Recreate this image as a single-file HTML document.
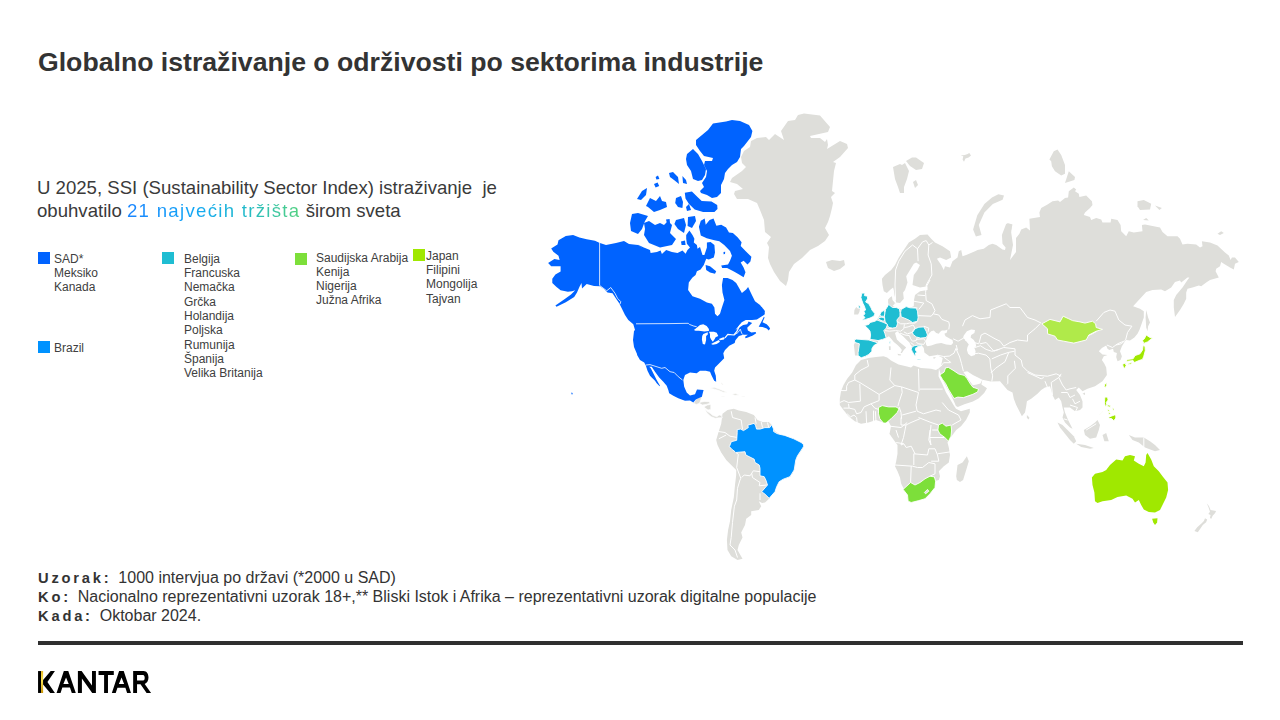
<!DOCTYPE html>
<html><head><meta charset="utf-8">
<style>
html,body{margin:0;padding:0;background:#fff;}
body{width:1280px;height:720px;position:relative;overflow:hidden;font-family:"Liberation Sans",sans-serif;color:#404040;}
.abs{position:absolute;white-space:nowrap;}
#title{left:38px;top:47px;font-size:26.65px;font-weight:bold;color:#333;line-height:30px;}
#sub{left:37px;top:177.4px;font-size:18.6px;line-height:22.7px;color:#3a3a3a;}
.grad{background:linear-gradient(90deg,#1a84ff 0%,#12a6f6 38%,#1fb8cf 66%,#52d17f 100%);-webkit-background-clip:text;background-clip:text;color:transparent;letter-spacing:1.3px;}
.sq{position:absolute;width:12px;height:12px;}
.leg{position:absolute;font-size:12px;line-height:14.3px;color:#404040;white-space:nowrap;}
.foot{position:absolute;left:38px;font-size:16px;color:#333;white-space:nowrap;line-height:19px;}
.foot b{letter-spacing:2.8px;font-size:14.7px;}
#rule{position:absolute;left:38px;top:641px;width:1205px;height:4px;background:#2f2f2f;}
</style></head>
<body>
<div id="title" class="abs">Globalno istraživanje o održivosti po sektorima industrije</div>
<div id="sub" class="abs">U 2025, SSI (Sustainability Sector Index) istraživanje&nbsp; je<br>obuhvatilo <span class="grad">21 najvećih tržišta</span> širom sveta</div>

<div class="sq" style="left:38px;top:252px;background:#0063ff"></div>
<div class="leg" style="left:54px;top:251.7px">SAD*<br>Meksiko<br>Kanada</div>
<div class="sq" style="left:38px;top:341px;background:#0092ff"></div>
<div class="leg" style="left:54px;top:341px">Brazil</div>
<div class="sq" style="left:162px;top:252px;background:#1fbdd2"></div>
<div class="leg" style="left:184px;top:251.8px">Belgija<br>Francuska<br>Nemačka<br>Grčka<br>Holandija<br>Poljska<br>Rumunija<br>Španija<br>Velika Britanija</div>
<div class="sq" style="left:295px;top:253px;background:#7ddf3a"></div>
<div class="leg" style="left:316px;top:250.6px;line-height:14px">Saudijska Arabija<br>Kenija<br>Nigerija<br>Južna Afrika</div>
<div class="sq" style="left:413px;top:249px;background:#a0e800"></div>
<div class="leg" style="left:426px;top:248.9px;line-height:14.2px">Japan<br>Filipini<br>Mongolija<br>Tajvan</div>

<div class="foot" style="top:568px"><b class="m">Uzorak: </b><span class="m">1000 intervjua po državi (*2000 u SAD)</span></div>
<div class="foot" style="top:587px"><b class="m">Ko: </b><span class="m">Nacionalno reprezentativni uzorak 18+,** Bliski Istok i Afrika – reprezentativni uzorak digitalne populacije</span></div>
<div class="foot" style="top:606px"><b class="m">Kada: </b><span class="m">Oktobar 2024.</span></div>
<div id="rule"></div>
<svg id="logo" width="1280" height="720" style="position:absolute;left:0;top:0"><defs><linearGradient id="gold" x1="0" y1="0" x2="0" y2="1"><stop offset="0" stop-color="#e8b820"/><stop offset="0.4" stop-color="#ffe650"/><stop offset="1" stop-color="#c89200"/></linearGradient></defs><g fill="#000"><rect x="38.05" y="671.06" width="3" height="21.9"/><rect x="41.05" y="671.06" width="2.05" height="21.9" fill="url(#gold)"/><path d="M50.7,671.06H54.92L47.42,681.94L54.92,692.96H50.24L43.06,684.52V680.06Z"/><path fill-rule="evenodd" d="M56.57,692.96L63.83,671.06H68.28L75.79,692.96H71.8L69.95,687.57H62.34L60.55,692.96ZM66.04,677.49L63.36,684.05H68.75Z"/><path d="M77.9,671.06H81.6L92,685.5V671.06H95.9V692.96H92.2L81.9,678.5V692.96H77.9Z"/><path d="M98.54,671.06H113.79V674.96H107.98V692.96H104.1V674.96H98.54Z"/><path fill-rule="evenodd" d="M111.85,692.96L119.12,671.06H123.72L130.98,692.96H127.11L125.4,687.79H117.45L115.73,692.96ZM121.54,677.38L118.9,683.92H124.1Z"/><path fill-rule="evenodd" d="M133.16,692.96V671.06H143.6C146.7,671.06 148.5,673.9 148.5,677.6C148.5,680.9 146.8,683.2 144.7,683.9L151.07,692.96H146.6L140.5,684.2H137.04V692.96ZM137.04,674.96V680.53H143.1C144.3,680.53 144.7,679 144.7,677.7C144.7,676.4 144.2,674.96 143,674.96Z"/></g></svg>

<!--MAP--><svg id="map" width="1280" height="720" style="position:absolute;left:0;top:0"><path d="M781.0,131.0 788.0,121.0 795.0,120.0 798.0,115.0 804.0,113.4 820.0,115.4 830.0,127.0 828.0,132.0 810.0,136.0 811.0,138.0 820.0,138.0 825.0,142.0 827.0,139.0 828.0,145.0 827.0,149.0 840.0,141.0 847.0,144.0 848.0,148.0 840.0,157.0 833.0,162.0 836.0,163.0 834.0,171.0 833.0,181.0 832.0,191.0 835.0,193.0 831.0,197.0 833.0,203.0 832.0,208.0 830.0,216.0 828.0,222.0 825.0,228.0 829.0,235.0 825.0,241.0 818.0,246.0 810.0,250.0 802.0,258.0 794.0,264.0 789.0,272.0 788.0,280.0 786.0,286.0 780.0,281.0 774.0,272.0 770.0,264.0 768.0,258.0 769.0,247.0 767.0,243.0 771.0,237.0 765.0,232.0 764.0,220.0 760.0,210.0 757.0,203.0 748.0,199.0 737.0,199.0 734.0,194.0 735.0,191.0 743.0,189.0 737.0,184.0 730.0,182.0 732.0,178.0 742.0,171.0 746.0,167.0 742.0,163.0 741.0,157.0 744.0,151.0 750.0,147.0 751.0,141.0 757.0,138.0 766.0,137.0 769.0,140.0 775.0,134.0 784.0,140.0Z" fill="#dededa"/><path d="M826.0,262.0 832.0,260.0 840.0,261.0 844.0,260.0 845.0,265.0 840.0,269.0 834.0,271.0 828.0,268.0Z" fill="#dededa"/><path d="M893.0,167.0 900.0,164.0 902.0,165.0 905.0,163.0 909.0,171.0 907.0,179.0 904.0,187.0 904.0,193.0 900.0,193.0 898.0,187.0 895.0,179.0Z" fill="#dededa"/><path d="M906.0,161.0 912.0,157.4 916.0,157.4 924.0,163.0 922.0,169.0 916.0,170.0 910.0,166.0Z" fill="#dededa"/><path d="M913.0,182.0 916.0,180.0 918.0,185.0 915.0,188.0Z" fill="#dededa"/><path d="M960.6,155.4 964.8,155.1 967.6,154.0 969.3,153.0 971.0,155.4 968.6,157.5 965.5,158.6 964.0,161.7 962.6,159.5 963.3,156.3Z" fill="#dededa"/><path d="M1004.0,195.6 998.4,194.2 992.0,197.5 984.4,204.0 977.3,215.3 973.1,229.4 975.9,236.4 981.5,235.0 978.8,225.1 984.4,212.5 992.8,204.0 1002.6,199.8Z" fill="#dededa"/><path d="M1049.4,159.4 1053.8,151.2 1057.5,149.4 1061.2,155.0 1065.0,165.0 1065.0,173.8 1061.2,175.6 1055.0,171.2 1051.9,166.2 1051.2,161.2Z" fill="#dededa"/><path d="M1065.0,183.1 1068.8,171.2 1075.0,176.9 1074.4,180.0Z" fill="#dededa"/><path d="M1137.5,201.2 1143.8,200.0 1151.2,203.8 1150.0,209.4 1140.0,210.0 1137.5,206.2Z" fill="#dededa"/><path d="M1155.0,205.6 1161.9,208.1 1159.4,210.0Z" fill="#dededa"/><path d="M1143.1,220.0 1146.2,218.1 1148.8,220.6Z" fill="#dededa"/><path d="M1217.5,233.8 1221.2,231.2 1223.8,233.1 1220.0,235.0Z" fill="#dededa"/><path d="M1005.0,230.0 1007.5,223.1 1012.5,224.4 1011.2,230.0Z" fill="#dededa"/><path d="M855.0,355.6 854.4,349.4 853.8,345.0 855.0,342.5 854.4,340.0 856.2,339.1 868.8,340.0 870.0,339.4 870.6,335.0 870.0,331.2 867.5,328.1 864.4,325.6 868.8,324.4 870.0,322.5 875.0,321.2 876.9,320.0 878.1,317.8 880.0,314.4 881.2,311.9 884.4,310.3 885.6,309.4 888.1,305.6 888.1,303.8 888.1,299.4 890.0,297.5 891.9,296.2 892.5,300.0 895.0,303.1 894.0,304.5 896.2,302.5 894.4,294.4 893.8,290.0 893.1,287.5 890.0,290.0 886.9,293.1 883.8,291.2 882.5,285.0 881.9,278.8 885.0,275.0 891.2,270.0 895.0,265.0 898.8,257.5 903.8,250.0 908.8,242.5 915.0,238.8 920.0,235.0 927.5,234.4 931.2,238.8 935.0,242.5 942.5,246.2 950.0,251.2 951.2,257.5 946.2,260.0 940.0,257.5 936.9,258.8 941.2,265.0 943.8,270.0 945.0,266.2 950.0,267.5 952.5,261.2 957.5,257.5 958.8,251.2 961.2,250.0 962.5,256.2 966.2,255.0 975.0,251.2 977.5,250.0 983.8,248.8 988.8,245.0 992.5,243.8 996.2,245.0 1002.5,249.4 1005.0,250.0 1005.6,247.5 1002.5,243.8 1001.9,235.0 1006.2,223.8 1011.9,224.4 1011.2,232.5 1013.0,245.0 1010.0,260.0 1016.0,252.0 1016.0,238.0 1019.4,233.8 1021.2,229.4 1026.2,227.5 1030.0,230.6 1029.4,218.8 1040.0,216.9 1039.4,212.5 1041.2,208.1 1047.5,204.4 1052.5,201.2 1058.1,200.6 1060.0,201.9 1065.0,198.1 1068.1,197.5 1068.8,191.2 1073.8,187.5 1076.2,189.4 1075.0,191.2 1078.8,193.8 1079.4,196.9 1086.2,195.6 1091.9,201.2 1092.5,205.0 1090.0,208.1 1085.0,212.5 1083.8,215.0 1090.0,216.9 1091.2,220.0 1096.2,218.1 1101.2,219.4 1102.5,222.5 1110.6,222.5 1111.2,218.8 1117.5,220.0 1120.6,225.0 1121.2,231.2 1126.2,236.2 1128.8,231.2 1133.8,232.5 1142.5,231.2 1141.9,225.0 1145.0,224.4 1160.0,227.5 1162.5,231.9 1167.5,236.2 1177.5,236.2 1180.0,238.8 1182.5,244.4 1187.5,243.8 1196.2,244.4 1200.0,247.5 1202.5,246.2 1201.9,241.2 1210.0,242.5 1217.5,245.6 1225.0,252.5 1228.8,255.6 1230.6,260.0 1231.9,257.5 1235.0,257.5 1238.8,261.9 1235.0,263.8 1233.8,269.4 1230.0,267.5 1223.8,263.8 1221.2,261.9 1220.0,266.2 1216.2,268.8 1215.6,271.2 1218.8,277.5 1210.0,280.0 1206.2,282.5 1201.2,286.2 1198.8,285.6 1192.5,287.5 1187.5,288.8 1186.2,292.5 1186.2,298.8 1183.8,303.8 1180.0,310.0 1175.0,316.9 1173.8,307.5 1173.8,300.0 1176.2,295.0 1182.5,287.5 1187.5,280.0 1189.4,277.5 1187.5,277.5 1181.2,282.5 1180.0,280.6 1175.0,281.9 1171.2,287.5 1165.0,291.2 1161.2,289.4 1152.5,290.0 1146.2,291.9 1133.1,306.2 1140.0,308.8 1143.8,311.2 1143.8,317.5 1141.2,325.0 1139.4,330.0 1137.5,333.8 1134.4,337.5 1130.0,340.6 1126.2,340.0 1125.0,341.2 1121.9,346.2 1120.0,351.2 1121.9,356.2 1120.6,360.0 1117.5,361.2 1116.2,356.9 1116.9,353.1 1113.8,351.9 1113.1,348.8 1109.4,350.0 1107.5,348.8 1106.2,345.6 1101.9,348.1 1098.8,351.2 1102.5,354.4 1107.5,355.0 1103.8,356.2 1101.9,360.0 1104.4,363.8 1106.2,367.5 1106.9,375.0 1102.5,381.2 1095.0,386.2 1087.5,388.8 1082.5,391.2 1078.8,387.5 1076.2,390.0 1080.0,395.0 1082.5,401.2 1082.5,407.5 1080.0,410.0 1075.0,411.2 1070.0,407.5 1063.8,407.5 1065.0,412.5 1068.1,420.0 1072.5,428.8 1070.0,427.5 1065.0,422.5 1062.5,417.5 1063.8,412.5 1062.5,407.5 1061.2,401.2 1058.8,397.5 1055.0,400.0 1052.5,395.0 1051.2,390.0 1050.0,386.2 1045.0,387.5 1041.2,390.0 1037.5,393.8 1031.2,398.8 1026.9,401.2 1026.2,406.2 1025.0,412.5 1021.9,416.2 1020.0,412.5 1016.2,405.0 1013.8,398.8 1012.5,392.5 1007.5,390.0 1000.0,381.2 990.8,381.5 982.3,379.7 981.4,384.4 987.0,388.2 984.2,392.9 978.5,398.5 972.9,401.4 964.4,404.2 957.8,407.0 955.9,406.1 954.0,401.4 950.2,393.8 945.5,385.3 941.7,377.8 938.9,368.3 940.8,366.4 941.7,362.7 942.7,357.9 937.0,355.1 929.4,356.2 924.4,352.5 923.8,348.1 921.8,345.5 918.0,346.2 916.9,347.4 917.6,348.1 915.8,347.8 915.4,350.0 917.2,352.6 915.4,353.0 915.8,355.2 914.6,355.8 913.5,353.4 912.4,351.9 911.2,349.2 911.9,346.2 910.6,345.0 909.4,342.5 906.2,339.4 903.1,336.2 900.0,333.8 897.5,331.2 895.0,333.0 896.9,339.4 900.0,342.5 903.8,345.6 906.2,347.5 905.0,348.8 903.8,350.0 901.9,353.1 900.6,353.1 901.9,350.0 900.0,347.5 897.5,345.0 893.8,341.9 891.2,338.8 888.8,336.2 886.2,338.1 882.5,339.4 878.1,340.6 878.1,343.1 873.8,345.6 871.9,348.8 871.9,351.2 868.8,354.4 865.6,356.2 861.2,357.8 858.1,355.6Z" fill="#dededa"/><path d="M892.5,306.0 896.2,307.5 899.4,308.8 901.2,309.4 906.2,306.6 910.0,307.8 913.8,306.0 914.0,300.0 915.0,295.0 920.0,291.2 927.5,290.0 927.5,286.2 920.0,287.5 912.5,285.0 913.8,275.0 917.5,270.0 920.0,265.0 916.2,262.5 913.8,263.8 910.0,270.0 906.2,276.2 907.5,282.5 905.0,290.0 903.1,292.5 903.8,298.8 900.0,303.1 896.2,302.5 894.0,304.5Z" fill="#ffffff"/><path d="M926.2,345.0 925.6,341.2 927.5,336.2 928.8,333.8 931.2,331.2 933.8,330.6 936.2,333.1 938.8,333.8 940.0,331.9 941.9,330.6 945.0,330.6 947.5,329.4 946.9,332.5 944.4,333.8 945.6,336.2 950.0,338.8 952.5,340.0 953.1,343.1 951.2,345.0 946.2,344.4 941.2,343.1 936.2,343.8 931.2,345.6 927.5,346.2Z" fill="#ffffff"/><path d="M963.8,335.6 966.9,331.2 971.2,329.4 975.0,330.0 974.4,333.1 971.2,335.0 970.6,337.5 973.8,340.0 975.6,343.1 976.2,346.2 974.4,348.1 975.6,351.2 975.0,355.0 971.2,356.2 968.1,353.8 966.9,350.0 967.5,346.9 968.8,344.4 966.2,341.2 963.1,337.5Z" fill="#ffffff"/><path d="M963.4,372.1 967.2,371.2 972.9,374.9 978.5,377.8 982.3,379.7 980.4,383.4 976.7,384.4 972.9,385.3 970.0,381.5 967.2,377.8Z" fill="#ffffff"/><path d="M854.1,314.4 854.4,310.0 856.2,306.9 858.1,308.8 860.0,308.8 859.4,311.9 858.1,314.4Z" fill="#dededa"/><path d="M1146.2,310.0 1148.1,317.5 1150.0,322.5 1148.1,326.2 1147.5,331.2 1146.2,327.5 1145.6,317.5Z" fill="#dededa"/><path d="M1026.9,415.0 1029.4,417.5 1028.8,419.4 1026.9,418.1Z" fill="#dededa"/><path d="M1082.5,393.8 1085.0,392.5 1085.0,395.0Z" fill="#dededa"/><path d="M1057.5,422.5 1062.5,425.0 1068.8,431.2 1073.8,436.2 1076.2,441.2 1073.8,443.8 1070.0,440.0 1065.0,433.8 1060.0,427.5Z" fill="#dededa"/><path d="M1076.2,443.8 1085.0,445.0 1093.8,448.1 1090.0,448.8 1081.2,446.9Z" fill="#dededa"/><path d="M1083.8,430.0 1090.0,426.2 1095.0,422.5 1097.5,420.0 1100.0,425.0 1098.8,430.0 1096.2,437.5 1090.0,438.8 1085.0,435.0Z" fill="#dededa"/><path d="M1102.5,435.0 1106.2,433.1 1108.8,441.2 1104.4,441.2Z" fill="#dededa"/><path d="M1128.8,435.0 1135.0,437.5 1143.8,437.5 1150.0,441.2 1155.0,445.0 1160.0,450.0 1155.0,451.2 1145.0,447.5 1138.8,442.5 1132.5,440.0Z" fill="#dededa"/><path d="M897.5,353.8 901.2,354.4 900.6,355.6 898.1,355.3Z" fill="#dededa"/><path d="M888.8,346.2 890.6,346.2 890.6,350.0 889.1,350.0Z" fill="#dededa"/><path d="M933.0,357.5 936.0,357.0 934.0,359.0Z" fill="#dededa"/><path d="M856.0,365.0 861.0,360.0 868.5,358.1 876.0,356.9 883.5,356.2 887.2,357.5 891.0,360.6 898.5,364.4 906.0,366.2 911.0,367.5 913.5,365.6 921.0,368.1 931.0,368.8 936.0,370.0 938.9,368.3 938.5,376.2 942.2,383.8 946.0,392.5 949.8,398.8 953.5,405.0 956.0,408.8 961.0,411.2 969.8,408.8 969.8,412.5 966.0,420.0 961.0,426.2 956.2,430.0 952.5,435.0 948.8,440.0 947.5,442.5 948.8,447.5 950.0,455.0 948.8,462.5 943.8,466.2 938.8,471.2 940.0,476.2 938.8,480.0 935.0,481.0 935.0,487.5 930.0,493.8 925.0,498.8 918.8,500.6 911.2,502.5 908.1,501.2 907.5,495.0 903.8,488.8 901.2,483.8 900.0,477.5 897.5,471.2 895.0,466.2 896.2,461.2 897.5,453.8 897.5,445.0 893.8,440.0 889.4,433.8 889.8,432.5 891.0,426.2 888.5,421.2 883.5,422.5 876.0,420.0 868.5,422.5 861.0,423.8 854.8,421.2 848.5,416.2 843.5,410.0 839.8,405.0 839.8,398.8 841.0,391.2 843.5,385.0 847.2,378.8 852.2,372.5Z" fill="#dededa"/><path d="M956.2,476.2 957.5,465.0 962.5,462.5 966.9,456.2 968.8,461.2 966.2,470.0 963.1,480.0 960.0,481.9 956.9,480.0Z" fill="#dededa"/><path d="M722.5,413.8 727.5,410.0 733.8,408.8 738.8,410.6 746.2,411.9 753.8,415.0 757.5,420.0 762.5,421.9 768.8,421.9 771.9,425.0 775.0,431.2 780.0,434.4 786.2,436.9 793.8,438.8 801.2,442.5 803.8,446.2 801.9,450.0 797.5,456.2 795.6,461.2 795.0,467.5 792.5,473.8 788.8,477.5 781.2,480.0 777.5,483.8 775.0,490.0 768.8,499.0 765.0,502.5 762.0,503.0 758.8,501.2 761.2,506.2 758.8,510.0 751.2,511.2 751.2,515.0 746.2,518.8 745.0,525.0 741.2,532.5 742.5,537.5 738.8,545.0 737.5,550.0 742.5,558.8 737.5,560.0 731.2,556.2 727.5,550.0 726.9,540.0 728.1,530.0 730.0,521.2 731.2,510.0 733.8,497.5 735.0,485.0 736.2,475.0 736.2,470.0 731.2,465.0 726.2,460.0 721.2,452.5 717.5,445.0 716.2,440.0 718.8,431.2 721.2,423.8Z" fill="#dededa"/><path d="M1091.9,477.5 1095.0,473.8 1102.5,471.9 1106.2,470.0 1110.0,465.0 1116.2,459.4 1122.5,460.6 1125.0,456.2 1130.0,455.0 1135.0,456.2 1133.8,460.6 1138.8,463.8 1143.8,466.2 1145.6,462.5 1146.2,455.0 1147.5,453.1 1151.2,459.4 1153.8,466.2 1158.8,471.2 1162.5,476.2 1167.5,482.5 1168.1,490.0 1166.2,497.5 1162.5,505.0 1160.0,510.0 1155.0,512.5 1148.8,511.9 1143.8,509.4 1141.2,505.0 1138.8,500.0 1135.0,502.5 1132.5,498.8 1126.2,495.6 1117.5,496.9 1111.2,500.0 1102.5,501.2 1097.5,503.1 1095.0,501.2 1094.4,492.5 1092.5,485.0Z" fill="#a0e800"/><path d="M1152.1,518.8 1157.5,518.3 1157.1,522.5 1155.0,525.0 1153.3,522.5Z" fill="#a0e800"/><path d="M1206.7,503.3 1208.9,506.1 1210.6,510.0 1216.1,511.1 1215.0,513.3 1212.8,515.6 1211.1,518.9 1210.0,517.8 1210.6,515.0 1208.3,513.9 1210.0,511.7 1208.3,506.7Z" fill="#dededa"/><path d="M1205.0,518.3 1207.2,519.4 1206.1,522.2 1202.8,525.0 1200.6,528.3 1197.8,532.2 1194.4,531.1 1197.2,527.2 1201.7,523.3 1203.9,521.1Z" fill="#dededa"/><path d="M693.6,403.3 695.8,399.4 699.1,397.2 701.9,396.7 700.8,400.0 699.7,403.3 696.3,404.4Z" fill="#dededa" stroke="#fff" stroke-width="0.7" stroke-linejoin="round"/><path d="M700.2,402.2 704.7,401.4 709.1,401.7 710.2,403.3 706.3,404.4 702.4,405.0 699.7,403.6Z" fill="#dededa" stroke="#fff" stroke-width="0.7" stroke-linejoin="round"/><path d="M704.1,406.7 707.4,405.0 710.8,404.4 710.8,409.4 708.0,410.0 704.7,407.8Z" fill="#dededa" stroke="#fff" stroke-width="0.7" stroke-linejoin="round"/><path d="M704.7,407.8 706.9,411.1 710.2,413.3 713.0,415.6 716.9,416.7 719.1,415.0 721.3,415.6 722.4,417.8 719.1,417.8 715.2,418.3 711.3,416.7 708.0,413.9 706.3,411.7Z" fill="#dededa" stroke="#fff" stroke-width="0.7" stroke-linejoin="round"/><path d="M709.7,388.3 714.1,387.2 719.1,388.9 724.1,391.1 727.4,392.2 723.6,392.5 719.1,390.6 713.6,388.9Z" fill="#e6e6e2" stroke="#fff" stroke-width="0.7" stroke-linejoin="round"/><path d="M731.9,394.4 735.2,393.3 739.1,395.0 735.2,395.6Z" fill="#e6e6e2" stroke="#fff" stroke-width="0.7" stroke-linejoin="round"/><path d="M721.1,396.4 724.4,396.1 724.1,396.9 721.3,396.9Z" fill="#e6e6e2" stroke="#fff" stroke-width="0.7" stroke-linejoin="round"/><path d="M741.6,396.1 744.9,396.1 744.7,396.8 741.9,396.8Z" fill="#e6e6e2" stroke="#fff" stroke-width="0.7" stroke-linejoin="round"/><path d="M721.1,382.5 723.3,384.2 722.7,385.0 720.8,383.3Z" fill="#e6e6e2" stroke="#fff" stroke-width="0.7" stroke-linejoin="round"/><path d="M895.6,300.0 895.0,285.0 895.6,270.0 898.8,261.2 905.0,251.2 912.5,245.0 917.5,248.8" fill="none" stroke="#fff" stroke-width="1.0" stroke-linejoin="round"/><path d="M917.5,248.8 918.1,261.2" fill="none" stroke="#fff" stroke-width="1.0" stroke-linejoin="round"/><path d="M917.5,248.8 922.5,241.9 926.2,240.6 928.8,245.0 932.5,242.5" fill="none" stroke="#fff" stroke-width="1.0" stroke-linejoin="round"/><path d="M928.8,245.0 928.1,255.0 931.2,263.8 931.9,275.0 926.2,285.0 926.2,286.9 930.0,280.0" fill="none" stroke="#fff" stroke-width="1.0" stroke-linejoin="round"/><path d="M917.5,295.0 925.0,295.6" fill="none" stroke="#fff" stroke-width="1.0" stroke-linejoin="round"/><path d="M913.8,301.2 923.8,303.1" fill="none" stroke="#fff" stroke-width="1.0" stroke-linejoin="round"/><path d="M926.2,286.9 925.6,292.5 926.2,300.6 931.9,303.8 935.0,310.6 933.1,313.8" fill="none" stroke="#fff" stroke-width="1.0" stroke-linejoin="round"/><path d="M923.8,303.1 918.8,309.4" fill="none" stroke="#fff" stroke-width="1.0" stroke-linejoin="round"/><path d="M911.2,306.9 917.5,308.1" fill="none" stroke="#fff" stroke-width="1.0" stroke-linejoin="round"/><path d="M918.1,315.6 931.2,316.2 933.1,313.8 938.8,315.0 941.9,319.4 948.8,321.9 949.4,325.0 948.8,329.4" fill="none" stroke="#fff" stroke-width="1.0" stroke-linejoin="round"/><path d="M896.2,320.6 900.6,323.8 906.2,323.8 909.4,323.1 915.0,323.1 917.5,321.2" fill="none" stroke="#fff" stroke-width="1.0" stroke-linejoin="round"/><path d="M885.0,330.6 889.4,331.2 895.6,330.6 900.6,331.2 903.8,328.8 904.4,324.4" fill="none" stroke="#fff" stroke-width="1.0" stroke-linejoin="round"/><path d="M886.9,328.1 890.0,328.8 896.2,326.2" fill="none" stroke="#fff" stroke-width="1.0" stroke-linejoin="round"/><path d="M904.4,327.5 908.1,326.9 913.1,325.0 915.0,328.1 911.9,332.5 907.5,333.8 903.8,331.9" fill="none" stroke="#fff" stroke-width="1.0" stroke-linejoin="round"/><path d="M900.0,333.1 905.0,335.0 909.4,335.6 910.6,338.8 912.5,341.2 916.2,340.6 917.5,336.9 912.5,333.8" fill="none" stroke="#fff" stroke-width="1.0" stroke-linejoin="round"/><path d="M916.2,339.4 923.8,338.8 925.6,341.2 923.8,344.4 918.8,343.8 916.2,342.5" fill="none" stroke="#fff" stroke-width="1.0" stroke-linejoin="round"/><path d="M910.6,342.5 913.8,345.0" fill="none" stroke="#fff" stroke-width="1.0" stroke-linejoin="round"/><path d="M923.8,326.2 928.8,328.1 928.1,331.9" fill="none" stroke="#fff" stroke-width="1.0" stroke-linejoin="round"/><path d="M953.1,338.8 958.1,341.2 963.8,338.0" fill="none" stroke="#fff" stroke-width="1.0" stroke-linejoin="round"/><path d="M956.2,345.0 957.5,350.0 955.9,348.5" fill="none" stroke="#fff" stroke-width="1.0" stroke-linejoin="round"/><path d="M937.0,355.1 943.6,356.5 949.3,356.1 954.0,353.2 955.9,348.5" fill="none" stroke="#fff" stroke-width="1.0" stroke-linejoin="round"/><path d="M943.6,357.0 951.2,362.7" fill="none" stroke="#fff" stroke-width="1.0" stroke-linejoin="round"/><path d="M955.9,348.5 959.7,357.0 961.5,363.6 963.4,371.2" fill="none" stroke="#fff" stroke-width="1.0" stroke-linejoin="round"/><path d="M940.8,366.4 943.6,362.7 950.2,362.7" fill="none" stroke="#fff" stroke-width="1.0" stroke-linejoin="round"/><path d="M971.0,354.2 978.5,353.2 986.1,355.1 989.9,358.9" fill="none" stroke="#fff" stroke-width="1.0" stroke-linejoin="round"/><path d="M989.9,358.9 990.8,368.3 992.7,375.9 991.8,381.5" fill="none" stroke="#fff" stroke-width="1.0" stroke-linejoin="round"/><path d="M1008.8,352.3 1005.0,361.7 995.5,368.3 990.8,373.0" fill="none" stroke="#fff" stroke-width="1.0" stroke-linejoin="round"/><path d="M1014.4,360.8 1015.4,368.3 1007.8,375.9 1007.8,383.4 1006.9,384.4" fill="none" stroke="#fff" stroke-width="1.0" stroke-linejoin="round"/><path d="M991.8,358.9 1000.3,355.1 1008.8,352.3 1014.4,351.3" fill="none" stroke="#fff" stroke-width="1.0" stroke-linejoin="round"/><path d="M974.8,347.6 980.4,345.7 986.1,349.4 991.8,351.3 999.3,349.4" fill="none" stroke="#fff" stroke-width="1.0" stroke-linejoin="round"/><path d="M920.0,389.1 942.7,389.1" fill="none" stroke="#fff" stroke-width="1.0" stroke-linejoin="round"/><path d="M962.5,326.2 965.0,320.0 972.5,315.6 980.0,318.8 990.0,317.5 990.6,310.0 1006.2,303.8 1010.0,307.5 1020.0,307.5 1027.5,317.5 1035.0,320.0 1041.2,323.1" fill="none" stroke="#fff" stroke-width="1.0" stroke-linejoin="round"/><path d="M1040.0,323.8 1035.0,328.8 1027.5,335.0 1027.5,341.2 1017.5,340.0 1010.0,342.5" fill="none" stroke="#fff" stroke-width="1.0" stroke-linejoin="round"/><path d="M965.0,340.0 978.8,343.8 981.2,335.0 985.0,333.1 995.0,338.8 1000.0,341.2 1003.8,346.2 1010.0,342.5" fill="none" stroke="#fff" stroke-width="1.0" stroke-linejoin="round"/><path d="M980.0,343.8 986.2,342.5 993.8,351.2 1003.8,347.5" fill="none" stroke="#fff" stroke-width="1.0" stroke-linejoin="round"/><path d="M1003.8,347.5 1015.0,348.8 1015.0,355.0 1021.2,360.0 1022.5,366.2 1027.5,371.2 1035.0,375.0 1047.5,376.2 1056.2,373.8 1061.2,376.2" fill="none" stroke="#fff" stroke-width="1.0" stroke-linejoin="round"/><path d="M1096.2,321.2 1103.8,312.5 1110.0,310.0 1115.0,311.2 1118.8,320.0 1125.0,325.0 1131.9,326.2 1127.5,332.5 1125.6,340.0 1121.2,343.8 1116.2,345.0" fill="none" stroke="#fff" stroke-width="1.0" stroke-linejoin="round"/><path d="M1080.0,341.2 1085.0,339.4 1087.5,335.6 1091.2,334.4 1096.9,331.2 1098.1,330.0" fill="none" stroke="#fff" stroke-width="1.0" stroke-linejoin="round"/><path d="M1106.9,345.0 1112.5,347.5 1117.5,343.8 1123.8,341.2" fill="none" stroke="#fff" stroke-width="1.0" stroke-linejoin="round"/><path d="M1027.5,372.5 1041.2,378.8 1043.8,377.5" fill="none" stroke="#fff" stroke-width="1.0" stroke-linejoin="round"/><path d="M1045.0,381.2 1047.5,387.5" fill="none" stroke="#fff" stroke-width="1.0" stroke-linejoin="round"/><path d="M1051.2,382.5 1058.8,377.5 1061.2,373.8" fill="none" stroke="#fff" stroke-width="1.0" stroke-linejoin="round"/><path d="M1051.2,382.5 1052.5,395.0" fill="none" stroke="#fff" stroke-width="1.0" stroke-linejoin="round"/><path d="M1058.8,377.5 1062.5,385.0 1066.2,390.0 1070.0,388.8 1076.2,387.5" fill="none" stroke="#fff" stroke-width="1.0" stroke-linejoin="round"/><path d="M1061.2,392.5 1067.5,392.5 1070.0,397.5 1075.0,395.0" fill="none" stroke="#fff" stroke-width="1.0" stroke-linejoin="round"/><path d="M1072.5,398.8 1075.0,403.8 1080.0,401.2" fill="none" stroke="#fff" stroke-width="1.0" stroke-linejoin="round"/><path d="M1070.0,405.0 1077.5,407.5 1075.0,412.5" fill="none" stroke="#fff" stroke-width="1.0" stroke-linejoin="round"/><path d="M1063.8,418.8 1067.5,420.0" fill="none" stroke="#fff" stroke-width="1.0" stroke-linejoin="round"/><path d="M1086.2,430.0 1096.2,423.8" fill="none" stroke="#fff" stroke-width="1.0" stroke-linejoin="round"/><path d="M1143.8,437.5 1143.8,447.5" fill="none" stroke="#fff" stroke-width="1.0" stroke-linejoin="round"/><path d="M867.2,360.0 868.5,366.2 861.0,370.0 854.8,375.0 854.8,380.0" fill="none" stroke="#fff" stroke-width="1.0" stroke-linejoin="round"/><path d="M841.0,390.6 846.6,390.6 846.6,386.2 848.5,382.5 854.8,380.0 859.8,382.5" fill="none" stroke="#fff" stroke-width="1.0" stroke-linejoin="round"/><path d="M859.8,383.8 860.4,401.2 848.5,402.5 844.1,400.6 839.8,402.5" fill="none" stroke="#fff" stroke-width="1.0" stroke-linejoin="round"/><path d="M859.8,382.5 879.1,394.4 894.8,385.6" fill="none" stroke="#fff" stroke-width="1.0" stroke-linejoin="round"/><path d="M891.0,367.5 889.8,380.0 894.8,385.6 901.6,386.9 902.2,392.5 899.1,401.9 897.9,406.2" fill="none" stroke="#fff" stroke-width="1.0" stroke-linejoin="round"/><path d="M879.1,394.4 879.1,400.6 871.0,403.8 864.1,406.9 861.0,412.5" fill="none" stroke="#fff" stroke-width="1.0" stroke-linejoin="round"/><path d="M871.0,403.8 874.8,408.1 878.5,409.4" fill="none" stroke="#fff" stroke-width="1.0" stroke-linejoin="round"/><path d="M848.5,403.8 849.1,408.1 854.8,409.4 856.6,413.8 861.0,412.5" fill="none" stroke="#fff" stroke-width="1.0" stroke-linejoin="round"/><path d="M843.5,408.1 849.1,408.1" fill="none" stroke="#fff" stroke-width="1.0" stroke-linejoin="round"/><path d="M847.2,413.8 850.4,416.9 854.1,415.0 856.6,417.5 857.2,423.1" fill="none" stroke="#fff" stroke-width="1.0" stroke-linejoin="round"/><path d="M866.0,411.2 866.6,423.1" fill="none" stroke="#fff" stroke-width="1.0" stroke-linejoin="round"/><path d="M873.5,410.6 873.5,423.1" fill="none" stroke="#fff" stroke-width="1.0" stroke-linejoin="round"/><path d="M875.4,411.2 876.0,422.5" fill="none" stroke="#fff" stroke-width="1.0" stroke-linejoin="round"/><path d="M899.1,406.9 901.0,412.5 901.6,418.8" fill="none" stroke="#fff" stroke-width="1.0" stroke-linejoin="round"/><path d="M918.5,368.8 919.1,391.2" fill="none" stroke="#fff" stroke-width="1.0" stroke-linejoin="round"/><path d="M901.6,386.9 918.5,392.5" fill="none" stroke="#fff" stroke-width="1.0" stroke-linejoin="round"/><path d="M918.5,392.5 916.0,405.0 917.2,411.2" fill="none" stroke="#fff" stroke-width="1.0" stroke-linejoin="round"/><path d="M902.2,415.0 916.0,411.2" fill="none" stroke="#fff" stroke-width="1.0" stroke-linejoin="round"/><path d="M917.2,411.2 923.5,413.8 936.0,410.0 941.0,411.2" fill="none" stroke="#fff" stroke-width="1.0" stroke-linejoin="round"/><path d="M942.2,402.5 948.5,410.0 958.5,415.0 961.0,420.0 952.2,425.0" fill="none" stroke="#fff" stroke-width="1.0" stroke-linejoin="round"/><path d="M918.5,417.5 931.0,422.5 938.5,425.0" fill="none" stroke="#fff" stroke-width="1.0" stroke-linejoin="round"/><path d="M901.0,417.5 901.0,425.0 906.0,425.0 911.0,422.5 919.8,418.8" fill="none" stroke="#fff" stroke-width="1.0" stroke-linejoin="round"/><path d="M889.8,426.2 901.0,427.5 907.2,422.5" fill="none" stroke="#fff" stroke-width="1.0" stroke-linejoin="round"/><path d="M896.0,430.0 898.5,437.5" fill="none" stroke="#fff" stroke-width="1.0" stroke-linejoin="round"/><path d="M906.0,425.0 903.5,437.5 901.0,445.0 903.8,443.8" fill="none" stroke="#fff" stroke-width="1.0" stroke-linejoin="round"/><path d="M931.0,425.0 929.8,437.5 931.0,445.0 928.8,440.0 930.0,430.0" fill="none" stroke="#fff" stroke-width="1.0" stroke-linejoin="round"/><path d="M932.2,430.0 938.5,430.0" fill="none" stroke="#fff" stroke-width="1.0" stroke-linejoin="round"/><path d="M929.8,437.5 944.8,437.5" fill="none" stroke="#fff" stroke-width="1.0" stroke-linejoin="round"/><path d="M896.2,442.5 903.8,443.8 906.2,447.5 911.2,446.2 915.0,453.8" fill="none" stroke="#fff" stroke-width="1.0" stroke-linejoin="round"/><path d="M895.0,465.0 912.5,466.2 917.5,467.5 922.5,467.5" fill="none" stroke="#fff" stroke-width="1.0" stroke-linejoin="round"/><path d="M911.2,466.2 910.6,482.5" fill="none" stroke="#fff" stroke-width="1.0" stroke-linejoin="round"/><path d="M922.5,467.5 928.8,462.5 935.0,463.8 935.0,473.8 930.0,476.2" fill="none" stroke="#fff" stroke-width="1.0" stroke-linejoin="round"/><path d="M913.8,453.8 913.8,465.0" fill="none" stroke="#fff" stroke-width="1.0" stroke-linejoin="round"/><path d="M913.8,453.8 927.5,455.0 928.8,448.8 935.0,448.8 937.5,455.0 938.8,461.2 931.2,461.2" fill="none" stroke="#fff" stroke-width="1.0" stroke-linejoin="round"/><path d="M937.5,453.8 950.0,451.9" fill="none" stroke="#fff" stroke-width="1.0" stroke-linejoin="round"/><path d="M731.2,411.2 732.5,417.5 741.2,420.0 742.5,429.4" fill="none" stroke="#fff" stroke-width="1.0" stroke-linejoin="round"/><path d="M755.0,417.5 756.2,423.8" fill="none" stroke="#fff" stroke-width="1.0" stroke-linejoin="round"/><path d="M761.2,421.9 762.5,427.5" fill="none" stroke="#fff" stroke-width="1.0" stroke-linejoin="round"/><path d="M767.5,422.5 768.8,428.1" fill="none" stroke="#fff" stroke-width="1.0" stroke-linejoin="round"/><path d="M716.2,431.2 725.0,432.5 730.0,436.2 737.5,437.5" fill="none" stroke="#fff" stroke-width="1.0" stroke-linejoin="round"/><path d="M718.8,438.8 726.2,435.0" fill="none" stroke="#fff" stroke-width="1.0" stroke-linejoin="round"/><path d="M738.3,454.2 736.7,467.5 740.8,478.3 740.0,480.0 737.5,488.3 736.7,500.0 734.4,506.2 732.5,522.5 731.2,537.5 730.0,545.0 735.0,550.0 737.5,557.5" fill="none" stroke="#fff" stroke-width="1.0" stroke-linejoin="round"/><path d="M751.7,473.3 753.3,470.8 760.0,471.7" fill="none" stroke="#fff" stroke-width="1.0" stroke-linejoin="round"/><path d="M741.7,477.5 744.2,475.0 750.0,475.8 751.7,473.3 752.5,477.5 760.0,482.5 759.2,485.8 766.7,485.0" fill="none" stroke="#fff" stroke-width="1.0" stroke-linejoin="round"/><path d="M760.0,493.3 760.0,500.0" fill="none" stroke="#fff" stroke-width="1.0" stroke-linejoin="round"/><path d="M735.8,452.5 738.3,454.2" fill="none" stroke="#fff" stroke-width="1.0" stroke-linejoin="round"/><path d="M606.0,245.0 616.0,243.0 624.0,241.0 629.0,244.0 638.0,245.0 644.0,249.0 637.5,244.4 643.8,247.5 650.0,250.0 650.6,253.1 656.9,251.9 660.6,250.6 661.9,254.0 666.2,250.0 671.9,251.9 677.5,253.1 682.5,250.6 685.6,253.8 687.5,250.0 690.0,247.5 686.9,243.8 686.2,238.8 686.2,235.0 689.4,230.6 692.5,235.0 694.4,238.8 693.8,242.5 696.9,245.0 697.5,248.8 700.0,246.9 702.5,255.0 704.4,255.0 706.9,247.5 706.9,242.5 710.6,241.9 714.4,245.0 715.0,252.5 713.8,257.5 708.8,259.4 706.2,258.8 703.8,265.0 700.6,269.4 696.9,271.2 695.6,275.0 692.5,277.5 690.6,280.0 688.8,282.5 688.1,290.0 692.5,296.2 700.0,298.8 706.9,302.5 711.9,303.8 714.4,307.5 715.0,313.8 717.5,316.2 720.0,313.8 721.9,307.5 724.4,300.0 722.5,292.5 721.9,285.0 723.1,278.1 727.5,278.1 732.5,280.0 736.2,283.1 738.8,287.5 741.9,293.1 746.2,289.4 748.1,286.9 751.9,295.0 755.0,301.2 760.0,305.0 763.8,310.0 765.0,313.8 752.8,300.0 757.6,304.2 761.8,306.9 764.9,311.1 764.6,314.6 761.1,316.7 756.9,319.4 752.1,320.1 745.8,320.1 741.7,322.2 738.2,326.4 735.4,329.9 738.9,327.8 743.1,325.0 747.2,324.3 748.6,321.5 752.1,322.9 747.2,327.8 747.9,330.6 751.4,332.6 755.6,331.9 756.2,333.3 752.8,335.4 747.9,337.5 745.5,338.2 745.1,336.8 747.9,334.7 743.1,334.7 738.9,336.1 735.4,340.3 734.7,343.1 729.2,345.8 728.3,346.7 725.0,350.0 723.3,353.3 724.2,358.3 720.0,362.5 715.0,367.5 714.2,370.8 715.8,375.8 716.2,381.7 714.2,380.8 711.7,375.8 710.0,371.7 705.8,370.8 700.0,370.8 696.7,373.3 690.0,372.5 685.0,375.0 683.3,380.0 684.2,386.7 686.7,392.5 690.0,395.4 695.0,394.2 697.0,389.6 703.6,390.0 702.8,393.0 701.9,396.7 699.0,398.0 695.8,399.4 693.3,402.5 690.0,400.4 685.0,400.8 678.3,398.3 673.3,395.8 669.2,393.3 668.3,390.0 666.7,385.8 663.3,381.7 659.2,377.5 655.0,371.7 651.7,366.7 649.2,366.7 650.8,368.3 653.3,373.3 656.7,380.0 660.0,385.8 659.6,386.2 656.7,383.3 655.0,380.8 651.7,377.5 650.0,375.8 647.5,370.8 645.8,365.4 644.2,362.5 640.0,360.0 637.1,355.0 637.0,354.0 634.0,347.0 633.0,340.0 634.0,331.0 635.0,330.0 633.3,324.2 628.3,320.0 625.0,315.0 621.7,308.3 619.2,303.3 615.8,298.3 612.5,293.3 607.5,292.5 604.2,289.2 600.0,286.2 594.0,286.0 586.7,284.0 582.0,288.5 581.5,283.0 579.4,287.0 577.0,292.5 574.2,297.0 565.8,302.2 556.5,306.7 555.4,305.6 564.8,299.0 571.0,294.4 575.2,290.2 572.1,291.2 567.9,291.8 560.6,290.2 556.5,287.1 552.3,282.9 552.3,278.8 555.4,274.6 560.6,271.5 560.6,266.2 551.2,266.2 548.1,263.1 554.4,259.0 559.6,260.0 558.5,255.8 553.3,251.7 551.2,248.5 557.5,244.4 558.5,240.2 565.8,236.0 573.1,235.0 579.4,237.6 586.7,239.2 595.0,240.7 599.2,242.8Z" fill="#0063ff"/><path d="M693.9,330.0 696.1,328.3 700.0,325.0 703.3,324.2 706.7,326.1 708.9,328.9 708.9,331.1 704.4,331.4 698.9,330.8 695.6,330.8Z" fill="#ffffff"/><path d="M703.3,333.9 707.8,332.2 707.8,334.4 706.1,336.1 706.1,340.0 705.0,344.4 702.8,343.9 701.9,339.4 702.2,336.1Z" fill="#ffffff"/><path d="M708.9,331.7 713.9,331.7 716.7,332.8 718.3,336.1 715.6,337.2 714.4,339.4 712.8,341.7 711.1,339.4 710.0,337.2 710.0,333.9Z" fill="#ffffff"/><path d="M711.1,343.9 714.4,342.2 718.9,340.0 720.0,341.7 716.7,343.9 712.8,344.7Z" fill="#ffffff"/><path d="M718.9,338.9 723.3,337.2 725.0,337.8 723.9,339.4 720.0,340.3Z" fill="#ffffff"/><path d="M571.0,392.6 573.0,393.0 572.6,394.4 571.2,394.2Z" fill="#5a9bff"/><path d="M758.7,326.7 761.1,322.2 763.9,316.7 764.6,317.4 762.5,322.2 766.7,324.3 768.8,326.4 770.1,328.5 768.8,330.6 766.7,328.5 762.5,327.1Z" fill="#0063ff"/><path d="M696.0,140.0 708.0,130.0 713.0,123.4 726.0,121.4 732.0,120.0 740.0,121.0 749.0,125.0 752.4,131.0 751.0,137.0 744.0,146.0 741.0,149.0 740.0,157.0 737.0,162.0 732.0,165.0 728.0,169.0 725.0,173.0 724.0,179.0 721.0,185.0 721.0,193.0 717.0,197.0 712.0,198.0 707.0,195.0 701.0,193.0 700.0,191.0 704.0,187.0 702.0,183.0 706.0,177.0 707.0,171.0 704.0,165.0 705.0,161.0 712.0,161.0 713.0,158.0 704.0,156.0 700.0,151.0 696.0,145.0Z" fill="#0063ff"/><path d="M687.0,154.0 693.0,149.0 698.0,154.0 702.0,161.0 706.0,169.0 705.0,175.0 702.0,180.0 698.0,181.0 693.0,179.0 691.0,171.0 687.0,165.0 686.0,159.0Z" fill="#0063ff"/><path d="M684.8,192.8 691.9,191.4 697.5,197.0 701.7,201.0 711.5,201.5 717.2,205.0 717.5,209.0 714.4,212.0 703.1,212.0 694.7,209.5 689.0,204.0 685.5,198.4Z" fill="#0063ff"/><path d="M655.6,177.0 658.0,175.4 659.4,179.0 656.4,179.4Z" fill="#0063ff"/><path d="M654.0,184.0 657.6,182.6 659.2,186.0 655.6,187.4Z" fill="#0063ff"/><path d="M637.0,199.0 642.0,191.0 647.0,188.0 646.0,195.0 641.0,200.0Z" fill="#0063ff"/><path d="M646.0,206.0 650.0,198.0 656.0,201.0 660.0,196.0 662.0,201.0 666.0,202.0 667.0,207.0 660.0,210.0 654.0,212.0 648.0,207.0Z" fill="#0063ff"/><path d="M669.0,173.0 673.0,172.0 678.0,177.0 679.0,184.0 674.0,180.0 670.0,177.0Z" fill="#0063ff"/><path d="M682.4,176.0 686.0,180.0 687.0,184.0 683.0,183.0Z" fill="#0063ff"/><path d="M676.0,198.0 681.0,196.0 683.0,202.0 682.4,208.0 678.0,207.0 675.2,203.0Z" fill="#0063ff"/><path d="M686.0,207.0 689.0,204.0 691.0,210.0 687.0,211.0Z" fill="#0063ff"/><path d="M632.0,214.0 638.0,213.0 648.0,216.0 645.0,221.0 642.0,229.0 638.0,234.0 631.0,231.0 630.0,223.0Z" fill="#0063ff"/><path d="M644.0,223.0 649.0,221.0 655.0,225.0 660.0,223.0 664.0,225.0 668.0,221.0 672.0,225.0 670.0,233.0 676.0,239.0 672.0,245.0 660.0,247.4 649.0,243.0 644.0,235.0 645.0,229.0Z" fill="#0063ff"/><path d="M666.0,219.4 669.6,219.0 670.0,223.0 667.0,223.4Z" fill="#0063ff"/><path d="M676.0,220.0 684.0,218.0 686.0,225.0 684.0,233.0 678.0,229.0 674.4,224.0Z" fill="#0063ff"/><path d="M688.0,217.0 695.0,216.0 696.0,221.0 692.0,228.0 687.6,226.0Z" fill="#0063ff"/><path d="M681.0,241.4 685.0,240.6 685.6,245.0 681.6,245.0Z" fill="#0063ff"/><path d="M698.9,226.7 700.8,220.8 704.7,218.4 705.7,224.7 709.6,219.9 713.5,218.4 716.4,225.7 721.2,224.7 726.1,227.6 729.0,232.5 732.9,233.0 737.8,237.4 741.6,242.2 740.7,246.1 745.5,251.0 751.4,256.8 750.4,261.6 747.5,264.6 743.6,260.7 740.7,262.6 743.6,267.5 745.5,272.3 743.6,277.2 738.7,274.3 733.9,271.4 727.1,268.0 722.2,268.0 721.2,265.5 728.0,264.6 730.0,260.7 731.9,255.8 730.0,251.0 724.2,245.1 719.3,241.2 714.4,240.3 706.7,238.3 700.8,235.4Z" fill="#0063ff"/><path d="M723.5,252.0 725.2,251.8 725.0,254.0 723.6,254.2Z" fill="#0063ff"/><path d="M705.6,265.0 710.0,266.2 716.2,271.2 715.0,273.8 710.0,272.5 706.2,270.0Z" fill="#0063ff"/><path d="M725.0,337.8 727.8,334.4 733.9,335.0 736.7,331.7 740.0,325.0" fill="none" stroke="#fff" stroke-width="1.2" stroke-linejoin="round"/><path d="M734.5,334.8 738.0,332.5 740.3,329.2 741.7,333.3 743.0,334.7" fill="none" stroke="#fff" stroke-width="0.8" stroke-linejoin="round"/><path d="M599.6,242.5 599.6,285.4 606.7,290.8 610.8,287.5 615.0,293.3 617.5,298.3 620.8,301.7 620.0,304.2" fill="none" stroke="#fff" stroke-width="0.8" stroke-linejoin="round"/><path d="M636.0,323.8 670.0,323.6 688.3,323.3 689.4,324.4 693.9,326.1 696.7,326.7" fill="none" stroke="#fff" stroke-width="0.8" stroke-linejoin="round"/><path d="M645.8,365.0 650.0,364.6 661.7,368.3 665.0,367.5 670.0,371.7 674.2,372.5 678.3,376.7 682.5,380.0" fill="none" stroke="#fff" stroke-width="0.8" stroke-linejoin="round"/><path d="M861.9,293.1 865.0,293.1 864.4,295.6 867.5,296.2 867.5,298.8 865.6,301.9 868.8,303.8 871.2,308.1 871.9,310.0 875.0,313.8 873.8,316.2 870.0,318.1 865.6,319.4 861.9,320.6 865.0,317.5 863.1,315.6 865.0,313.8 863.8,311.2 865.6,310.0 864.4,306.2 863.1,303.8 861.9,300.6 860.9,297.5Z" fill="#1fbdd2" stroke="#fff" stroke-width="0.9" stroke-linejoin="round"/><path d="M858.1,305.0 860.0,305.6 860.3,308.1 858.8,308.4Z" fill="#1fbdd2" stroke="#fff" stroke-width="0.9" stroke-linejoin="round"/><path d="M880.0,314.4 881.2,311.9 884.4,310.3 885.0,313.1 884.4,316.2 883.8,316.2 880.6,316.2Z" fill="#1fbdd2" stroke="#fff" stroke-width="0.9" stroke-linejoin="round"/><path d="M878.1,317.8 881.2,317.2 883.8,317.5 885.0,320.0 883.1,321.2 880.0,320.0Z" fill="#1fbdd2" stroke="#fff" stroke-width="0.9" stroke-linejoin="round"/><path d="M885.6,309.4 888.1,305.6 888.1,303.8 890.0,305.6 892.5,307.5 896.2,307.5 899.4,308.8 900.0,312.5 900.0,316.2 896.9,320.0 897.5,323.8 896.2,327.5 892.5,328.1 888.8,327.5 886.9,324.4 885.0,321.2 884.4,316.2 885.0,312.5Z" fill="#1fbdd2" stroke="#fff" stroke-width="0.9" stroke-linejoin="round"/><path d="M901.2,309.4 906.2,306.6 910.0,307.8 916.2,308.1 917.5,311.2 918.1,317.5 917.5,321.2 912.5,322.5 908.8,320.0 904.4,318.1 901.2,316.9 900.6,312.5Z" fill="#1fbdd2" stroke="#fff" stroke-width="0.9" stroke-linejoin="round"/><path d="M864.4,325.6 868.8,324.4 870.0,322.5 875.0,321.2 876.9,320.0 883.8,322.5 887.5,324.4 886.2,328.1 883.8,330.6 885.0,333.8 886.2,338.1 882.5,339.4 878.1,340.6 875.0,340.0 870.0,339.4 870.6,335.0 870.0,331.2 867.5,328.1Z" fill="#1fbdd2" stroke="#fff" stroke-width="0.9" stroke-linejoin="round"/><path d="M889.1,341.6 890.6,341.2 890.6,343.1 889.4,343.4Z" fill="#1fbdd2" stroke="#fff" stroke-width="0.9" stroke-linejoin="round"/><path d="M854.4,340.0 856.2,339.1 868.8,340.0 875.0,341.9 878.1,343.1 873.8,345.6 871.9,348.8 871.9,351.2 868.8,354.4 865.6,356.2 861.2,357.8 858.1,355.6 858.1,352.5 858.8,348.1 859.4,343.8 855.0,342.5Z" fill="#1fbdd2" stroke="#fff" stroke-width="0.9" stroke-linejoin="round"/><path d="M912.5,332.5 915.0,328.8 918.8,327.2 923.8,326.9 926.2,331.2 927.5,335.0 926.2,337.5 920.6,338.1 916.2,336.9 913.1,334.4Z" fill="#1fbdd2" stroke="#fff" stroke-width="0.9" stroke-linejoin="round"/><path d="M911.2,349.2 912.4,346.6 915.0,345.5 918.8,345.1 921.8,345.1 921.4,345.9 918.0,346.2 916.9,347.4 917.6,348.1 915.8,347.8 915.4,350.0 916.5,351.5 917.2,352.6 915.4,353.0 915.8,355.2 914.6,355.8 913.5,353.4 912.4,351.9Z" fill="#1fbdd2" stroke="#fff" stroke-width="0.9" stroke-linejoin="round"/><path d="M917.0,359.0 921.0,359.3 921.0,360.1 917.2,360.0Z" fill="#1fbdd2" stroke="#fff" stroke-width="0.9" stroke-linejoin="round"/><path d="M939.8,374.9 944.1,372.1 945.5,367.9 948.3,367.4 953.0,370.2 958.7,374.0 964.4,375.4 967.2,378.7 970.0,383.4 972.9,387.2 978.5,389.1 977.6,391.9 972.9,394.3 963.4,397.6 957.8,397.1 954.0,398.5 951.2,393.8 948.3,389.1 945.5,383.4 942.7,379.7Z" fill="#7ddf3a" stroke="#fff" stroke-width="0.9" stroke-linejoin="round"/><path d="M878.5,407.5 882.2,405.6 888.5,406.9 896.0,406.9 899.1,408.8 897.2,412.5 894.8,415.0 891.0,418.8 886.0,423.1 883.5,423.1 879.8,418.8 878.5,413.8Z" fill="#7ddf3a" stroke="#fff" stroke-width="0.9" stroke-linejoin="round"/><path d="M938.5,425.0 942.2,423.1 946.0,426.2 951.0,425.0 951.6,430.0 951.0,436.2 948.5,441.2 944.8,437.5 939.8,433.8 937.9,430.0Z" fill="#7ddf3a" stroke="#fff" stroke-width="0.9" stroke-linejoin="round"/><path d="M903.1,489.4 910.6,482.5 915.0,485.0 920.0,482.5 925.0,478.8 930.0,476.2 934.4,476.9 935.6,481.2 935.0,487.5 930.0,493.8 925.0,498.8 918.8,500.6 911.2,502.5 908.1,501.2 907.5,495.0Z" fill="#7ddf3a" stroke="#fff" stroke-width="0.9" stroke-linejoin="round"/><path d="M924.4,492.5 927.5,489.4 928.8,491.2 925.6,493.8Z" fill="#dededa" stroke="#fff" stroke-width="0.9" stroke-linejoin="round"/><path d="M1041.9,323.8 1050.0,319.4 1060.0,321.9 1063.1,316.2 1068.8,318.8 1072.5,320.6 1080.0,321.9 1085.0,323.1 1092.5,321.2 1095.6,323.8 1096.2,327.5 1102.5,329.4 1096.2,331.2 1088.8,335.0 1086.2,340.0 1073.8,343.1 1063.8,341.2 1057.5,340.0 1055.0,336.2 1047.5,333.8 1047.5,328.8Z" fill="#b0ea4a" stroke="#fff" stroke-width="0.9" stroke-linejoin="round"/><path d="M1142.5,340.6 1144.4,338.8 1146.2,335.0 1150.0,337.5 1152.5,338.1 1150.0,340.0 1147.5,341.9 1143.8,343.4Z" fill="#a0e800" stroke="#fff" stroke-width="0.9" stroke-linejoin="round"/><path d="M1143.1,345.6 1145.0,346.2 1145.3,350.6 1143.8,356.2 1142.5,359.4 1138.8,360.6 1134.4,362.5 1133.1,360.6 1127.5,361.2 1125.6,361.9 1127.5,359.4 1133.1,358.8 1135.0,355.6 1140.0,353.8 1142.5,350.0Z" fill="#a0e800" stroke="#fff" stroke-width="0.9" stroke-linejoin="round"/><path d="M1122.5,364.4 1125.0,363.1 1126.2,365.6 1124.4,368.8 1123.1,366.2Z" fill="#a0e800" stroke="#fff" stroke-width="0.9" stroke-linejoin="round"/><path d="M1128.1,363.8 1131.2,362.5 1131.9,363.8 1128.8,364.7Z" fill="#a0e800" stroke="#fff" stroke-width="0.9" stroke-linejoin="round"/><path d="M729.4,446.6 731.3,441.7 736.7,440.3 737.2,432.5 737.2,429.6 740.6,429.1 743.5,430.6 748.3,427.6 747.8,425.2 754.2,423.3 755.6,425.7 756.6,429.1 760.0,429.1 764.9,427.6 769.7,427.6 771.7,424.7 773.6,429.1 773.6,431.5 777.0,433.5 778.5,434.0 784.8,435.4 793.8,438.8 801.2,442.5 803.3,444.2 803.8,446.2 802.5,448.3 797.5,455.8 795.8,460.0 794.2,470.0 790.0,476.7 783.3,479.2 779.2,481.7 776.7,486.7 775.0,491.7 769.2,498.3 765.0,494.2 761.7,491.7 767.5,485.0 765.8,480.0 764.2,476.7 760.0,475.8 760.0,468.3 759.2,465.0 755.0,462.5 754.2,459.2 745.8,455.0 745.0,451.7 735.8,452.5 735.0,451.7 731.7,449.2Z" fill="#0092ff" stroke="#fff" stroke-width="0.9" stroke-linejoin="round"/><path d="M1105.0,383.8 1106.9,382.8 1106.6,385.6 1105.3,387.5 1104.4,386.2Z" fill="#a0e800" stroke="#fff" stroke-width="0.9" stroke-linejoin="round"/><path d="M1105.0,396.9 1107.5,397.2 1108.1,400.0 1106.2,402.5 1106.9,405.0 1105.6,406.9 1104.4,403.1 1104.7,398.8Z" fill="#a0e800" stroke="#fff" stroke-width="0.9" stroke-linejoin="round"/><path d="M1107.2,404.8 1110.6,405.4 1110.3,407.2 1107.5,406.5Z" fill="#a0e800" stroke="#fff" stroke-width="0.9" stroke-linejoin="round"/><path d="M1112.3,407.8 1113.9,408.4 1114.0,410.5 1112.6,410.0Z" fill="#a0e800" stroke="#fff" stroke-width="0.9" stroke-linejoin="round"/><path d="M1107.4,409.5 1109.4,410.2 1109.2,411.6 1107.5,411.0Z" fill="#a0e800" stroke="#fff" stroke-width="0.9" stroke-linejoin="round"/><path d="M1108.5,412.2 1110.3,413.2 1110.0,414.6 1108.4,413.9Z" fill="#a0e800" stroke="#fff" stroke-width="0.9" stroke-linejoin="round"/><path d="M1108.1,417.5 1111.2,416.2 1114.4,415.0 1115.8,415.4 1115.8,418.1 1113.8,420.8 1111.9,418.8 1109.4,418.3Z" fill="#a0e800" stroke="#fff" stroke-width="0.9" stroke-linejoin="round"/><path d="M1099.4,414.4 1102.5,411.2 1102.9,411.6 1099.8,414.8Z" fill="#e6f7c0" stroke="#fff" stroke-width="0.9" stroke-linejoin="round"/></svg><!--/MAP-->
</body></html>
